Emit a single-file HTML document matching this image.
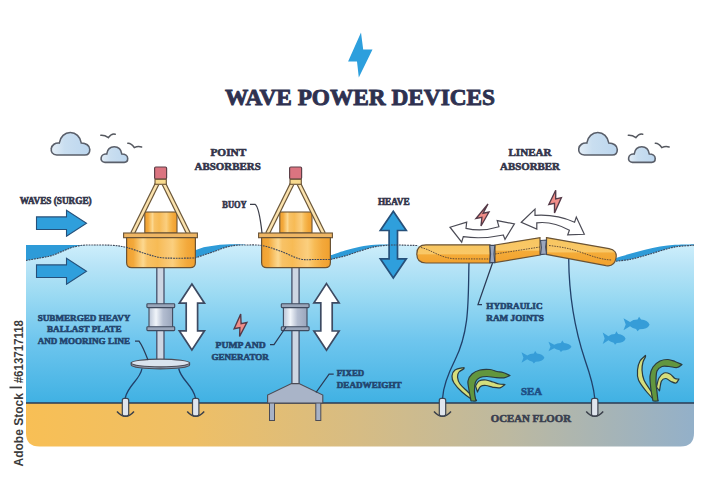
<!DOCTYPE html>
<html><head><meta charset="utf-8">
<style>
html,body{margin:0;padding:0;background:#fff;width:720px;height:480px;overflow:hidden}
svg{display:block}
text{font-family:"Liberation Serif",serif;font-weight:bold;fill:#2e3150}
</style></head><body>
<svg width="720" height="480" viewBox="0 0 720 480">
<defs>
<linearGradient id="water" gradientUnits="userSpaceOnUse" x1="0" y1="245" x2="0" y2="403">
<stop offset="0" stop-color="#cdeefb"/>
<stop offset="0.13" stop-color="#b8e4f7"/>
<stop offset="0.285" stop-color="#a0dcf3"/>
<stop offset="0.6" stop-color="#6fc6ee"/>
<stop offset="1" stop-color="#40b1e3"/>
</linearGradient>
<linearGradient id="sand" x1="0" y1="0" x2="1" y2="0">
<stop offset="0" stop-color="#f8bf55"/>
<stop offset="0.25" stop-color="#eebf66"/>
<stop offset="0.5" stop-color="#d6bc84"/>
<stop offset="0.72" stop-color="#bdb9a0"/>
<stop offset="1" stop-color="#93b0c9"/>
</linearGradient>
<linearGradient id="buoy" x1="0" y1="0" x2="1" y2="0">
<stop offset="0" stop-color="#f0a030"/>
<stop offset="0.1" stop-color="#f3a93b"/>
<stop offset="0.19" stop-color="#f9c872"/>
<stop offset="0.24" stop-color="#fcd890"/>
<stop offset="0.3" stop-color="#f8c266"/>
<stop offset="0.45" stop-color="#f7bb55"/>
<stop offset="0.58" stop-color="#f9c670"/>
<stop offset="0.67" stop-color="#fbcf7e"/>
<stop offset="0.77" stop-color="#f7bb55"/>
<stop offset="0.88" stop-color="#f3a93c"/>
<stop offset="1" stop-color="#f0a02e"/>
</linearGradient>
<linearGradient id="gen" x1="0" y1="0" x2="1" y2="0">
<stop offset="0" stop-color="#b9c4d6"/>
<stop offset="0.3" stop-color="#f1f5fa"/>
<stop offset="0.6" stop-color="#b3bdd0"/>
<stop offset="1" stop-color="#9aa6bc"/>
</linearGradient>
<linearGradient id="seg" x1="0" y1="0" x2="0" y2="1">
<stop offset="0" stop-color="#f8c660"/>
<stop offset="0.5" stop-color="#f9c868"/>
<stop offset="0.55" stop-color="#f4ab38"/>
<stop offset="1" stop-color="#f2a22e"/>
</linearGradient>
<linearGradient id="cloud" x1="0" y1="0" x2="1" y2="0">
<stop offset="0" stop-color="#e4eef7"/>
<stop offset="0.35" stop-color="#c9def0"/>
<stop offset="1" stop-color="#bcd6ee"/>
</linearGradient>
</defs>

<path d="M26 403 H694 V433 Q694 446.5 680.5 446.5 H39.5 Q26 446.5 26 433 Z" fill="url(#sand)"/>
<path d="M26 260.5 C28.33 260.08 35.67 258.83 40 258 C44.33 257.17 48.33 256.58 52 255.5 C55.67 254.42 58.67 252.83 62 251.5 C65.33 250.17 68.67 248.53 72 247.5 C75.33 246.47 78.67 245.72 82 245.3 C85.33 244.88 90.33 245.05 92 245  C95.33 245.05 106.17 244.88 112 245.3 C117.83 245.72 121.50 246.13 127 247.5 C132.50 248.87 139.50 251.83 145 253.5 C150.50 255.17 155.00 256.72 160 257.5 C165.00 258.28 169.17 258.12 175 258.2 C180.83 258.28 191.67 258.03 195 258  C196.67 257.43 201.67 255.72 205 254.6 C208.33 253.47 211.67 252.43 215 251.25 C218.33 250.07 221.67 248.47 225 247.5 C228.33 246.53 231.67 245.82 235 245.4 C238.33 244.98 243.33 245.07 245 245  C247.83 245.08 256.17 244.50 262 245.5 C267.83 246.50 273.67 248.75 280 251 C286.33 253.25 294.17 257.58 300 259 C305.83 260.42 310.00 259.42 315 259.5 C320.00 259.58 327.50 259.50 330 259.5  C332.50 258.90 340.00 257.32 345 255.9 C350.00 254.48 355.00 252.53 360 251 C365.00 249.47 370.33 247.67 375 246.7 C379.67 245.73 384.17 245.48 388 245.2 C391.83 244.92 396.33 245.03 398 245  C401.33 245.08 414.67 245.42 418 245.5 L460 250 L600 252 L616 261.2  C618.33 260.90 625.17 260.33 630 259.4 C634.83 258.47 640.00 257.00 645 255.6 C650.00 254.20 655.00 252.45 660 251 C665.00 249.55 670.00 247.82 675 246.9 C680.00 245.98 686.83 245.77 690 245.5 C693.17 245.23 693.33 245.33 694 245.3 V403 H26 Z" fill="url(#water)"/>
<path d="M26 245 C37.00 245.00 81.00 245.00 92 245 L92 245 C90.33 245.05 85.33 244.88 82 245.3 C78.67 245.72 75.33 246.47 72 247.5 C68.67 248.53 65.33 250.17 62 251.5 C58.67 252.83 55.67 254.42 52 255.5 C48.33 256.58 44.33 257.17 40 258 C35.67 258.83 28.33 260.08 26 260.5 Z" fill="#2e9bd8"/>
<path d="M195 250.4 C196.67 249.85 201.67 247.93 205 247.1 C208.33 246.27 211.67 245.82 215 245.4 C218.33 244.98 221.67 244.78 225 244.6 C228.33 244.42 231.67 244.30 235 244.3 C238.33 244.30 243.33 244.55 245 244.6 L245 245 C243.33 245.07 238.33 244.98 235 245.4 C231.67 245.82 228.33 246.53 225 247.5 C221.67 248.47 218.33 250.07 215 251.25 C211.67 252.43 208.33 253.47 205 254.6 C201.67 255.72 196.67 257.43 195 258 Z" fill="#2e9bd8"/>
<path d="M329 255.9 C331.67 255.00 339.83 252.03 345 250.5 C350.17 248.97 355.00 247.67 360 246.7 C365.00 245.73 370.33 245.08 375 244.7 C379.67 244.32 384.17 244.42 388 244.4 C391.83 244.38 396.33 244.57 398 244.6 L398 245 C396.33 245.03 391.83 244.92 388 245.2 C384.17 245.48 379.67 245.73 375 246.7 C370.33 247.67 365.00 249.47 360 251 C355.00 252.53 350.00 254.48 345 255.9 C340.00 257.32 332.50 258.90 330 259.5 Z" fill="#2e9bd8"/>
<path d="M616 258.1 C618.33 257.38 625.17 255.14 630 253.75 C634.83 252.36 640.00 250.96 645 249.75 C650.00 248.54 655.00 247.33 660 246.5 C665.00 245.67 670.00 245.10 675 244.75 C680.00 244.40 686.83 244.46 690 244.4 C693.17 244.34 693.33 244.40 694 244.4 L694 245.3 C693.33 245.33 693.17 245.23 690 245.5 C686.83 245.77 680.00 245.98 675 246.9 C670.00 247.82 665.00 249.55 660 251 C655.00 252.45 650.00 254.20 645 255.6 C640.00 257.00 634.83 258.47 630 259.4 C625.17 260.33 618.33 260.90 616 261.2 Z" fill="#2e9bd8"/>
<line x1="26" y1="403" x2="694" y2="403" stroke="#2b3a52" stroke-width="1.4"/>
<rect x="156.80" y="265" width="7.2" height="98.00" fill="#cdd6e3" stroke="#45506a" stroke-width="1.3"/>
<rect x="291.90" y="265" width="7.2" height="119.00" fill="#cdd6e3" stroke="#45506a" stroke-width="1.3"/>
<g transform="translate(0.00,0)">
<rect x="144.8" y="212" width="32.2" height="21" fill="url(#buoy)" stroke="#6a5335" stroke-width="1.1"/>
<line x1="157" y1="184" x2="132.5" y2="233.5" stroke="#6a5638" stroke-width="5" stroke-linecap="butt"/>
<line x1="157" y1="184" x2="132.5" y2="233.5" stroke="#fbe2ad" stroke-width="2.6"/>
<line x1="164" y1="184" x2="188.5" y2="233.5" stroke="#6a5638" stroke-width="5" stroke-linecap="butt"/>
<line x1="164" y1="184" x2="188.5" y2="233.5" stroke="#fbe2ad" stroke-width="2.6"/>
<rect x="154.6" y="167" width="12" height="12" rx="1.2" fill="#db7480" stroke="#5e4048" stroke-width="1.2"/>
<rect x="155" y="179.3" width="11.3" height="5" fill="#f8da8e" stroke="#6a5335" stroke-width="1.1"/>
<rect x="123.6" y="233" width="73.8" height="4.7" fill="#eeb664" stroke="#6a5335" stroke-width="1.1"/>
<path d="M126.6 237.7 H195.4 V262.5 Q195.4 267.7 190.2 267.7 H131.8 Q126.6 267.7 126.6 262.5 Z" fill="url(#buoy)" stroke="#6a5335" stroke-width="1.2"/>
</g>
<g transform="translate(135.00,0)">
<rect x="144.8" y="212" width="32.2" height="21" fill="url(#buoy)" stroke="#6a5335" stroke-width="1.1"/>
<line x1="157" y1="184" x2="132.5" y2="233.5" stroke="#6a5638" stroke-width="5" stroke-linecap="butt"/>
<line x1="157" y1="184" x2="132.5" y2="233.5" stroke="#fbe2ad" stroke-width="2.6"/>
<line x1="164" y1="184" x2="188.5" y2="233.5" stroke="#6a5638" stroke-width="5" stroke-linecap="butt"/>
<line x1="164" y1="184" x2="188.5" y2="233.5" stroke="#fbe2ad" stroke-width="2.6"/>
<rect x="154.6" y="167" width="12" height="12" rx="1.2" fill="#db7480" stroke="#5e4048" stroke-width="1.2"/>
<rect x="155" y="179.3" width="11.3" height="5" fill="#f8da8e" stroke="#6a5335" stroke-width="1.1"/>
<rect x="123.6" y="233" width="73.8" height="4.7" fill="#eeb664" stroke="#6a5335" stroke-width="1.1"/>
<path d="M126.6 237.7 H195.4 V262.5 Q195.4 267.7 190.2 267.7 H131.8 Q126.6 267.7 126.6 262.5 Z" fill="url(#buoy)" stroke="#6a5335" stroke-width="1.2"/>
</g>
<rect x="149.00" y="306" width="23.6" height="22" fill="url(#gen)" stroke="#3f4a5e" stroke-width="1.1"/>
<rect x="146.90" y="303.8" width="27.8" height="3.8" rx="0.8" fill="#9aa6ba" stroke="#3f4a5e" stroke-width="1.1"/>
<rect x="146.90" y="326.8" width="27.8" height="3.8" rx="0.8" fill="#9aa6ba" stroke="#3f4a5e" stroke-width="1.1"/>
<rect x="283.40" y="306" width="23.6" height="22" fill="url(#gen)" stroke="#3f4a5e" stroke-width="1.1"/>
<rect x="281.30" y="303.8" width="27.8" height="3.8" rx="0.8" fill="#9aa6ba" stroke="#3f4a5e" stroke-width="1.1"/>
<rect x="281.30" y="326.8" width="27.8" height="3.8" rx="0.8" fill="#9aa6ba" stroke="#3f4a5e" stroke-width="1.1"/>
<path d="M191.9 284 L204.5 303.2 L197.6 303.2 L197.6 330.8 L204.5 330.8 L191.9 350 L179.3 330.8 L186.20000000000002 330.8 L186.20000000000002 303.2 L179.3 303.2 Z" fill="#ffffff" stroke="#3d4a62" stroke-width="1.7" stroke-linejoin="miter"/>
<path d="M326.5 283.6 L339.1 302.8 L332.2 302.8 L332.2 331.0 L339.1 331.0 L326.5 350.2 L313.9 331.0 L320.8 331.0 L320.8 302.8 L313.9 302.8 Z" fill="#ffffff" stroke="#3d4a62" stroke-width="1.7" stroke-linejoin="miter"/>
<path d="M131.2 363 V365 A29.2 3.9 0 0 0 189.6 365 V363 Z" fill="#8d99ad" stroke="#4b4b55" stroke-width="1.1"/>
<ellipse cx="160.4" cy="363" rx="29.2" ry="3.9" fill="#dae3ee" stroke="#4b4b55" stroke-width="1.1"/>
<path d="M142 368.5 C140 380 128 385 125.2 398" fill="none" stroke="#21406a" stroke-width="1.3"/>
<path d="M178.7 368.5 C181 380 193 385 195.5 398" fill="none" stroke="#21406a" stroke-width="1.3"/>
<path d="M117.0 411.5 Q125.5 421 134.0 411.5" fill="none" stroke="#3a3f4a" stroke-width="1.5"/>
<rect x="122.3" y="398.4" width="6.4" height="17.5" rx="2" fill="#dfe5ee" stroke="#3f4652" stroke-width="1.2"/>
<path d="M187.2 411.5 Q195.7 421 204.2 411.5" fill="none" stroke="#3a3f4a" stroke-width="1.5"/>
<rect x="192.5" y="398.4" width="6.4" height="17.5" rx="2" fill="#dfe5ee" stroke="#3f4652" stroke-width="1.2"/>
<path d="M434.0 411.5 Q442.5 421 451.0 411.5" fill="none" stroke="#3a3f4a" stroke-width="1.5"/>
<rect x="439.3" y="398.4" width="6.4" height="17.5" rx="2" fill="#dfe5ee" stroke="#3f4652" stroke-width="1.2"/>
<path d="M586.2 411.5 Q594.7 421 603.2 411.5" fill="none" stroke="#3a3f4a" stroke-width="1.5"/>
<rect x="591.5" y="398.4" width="6.4" height="17.5" rx="2" fill="#dfe5ee" stroke="#3f4652" stroke-width="1.2"/>
<rect x="269.5" y="400" width="5" height="20.5" fill="#a7b2c6" stroke="#4b4b55" stroke-width="1"/>
<rect x="315.8" y="400" width="5" height="20.5" fill="#a7b2c6" stroke="#4b4b55" stroke-width="1"/>
<path d="M291.5 383.6 H299 L322.8 395 V403 H267.6 V395 Z" fill="#a9b4c8" stroke="#4b4b55" stroke-width="1.1"/>
<path d="M469 262 C468 300 470 330 455 360 C446 378 443 390 442.6 398" fill="none" stroke="#21406a" stroke-width="1.3"/>
<path d="M568.7 258.5 C569 300 575 330 585 360 C592 380 594 390 594.7 398" fill="none" stroke="#21406a" stroke-width="1.3"/>
<path d="M426 244.8 H490 V263 H426 Q416.8 263 416.8 253.9 Q416.8 244.8 426 244.8 Z" fill="url(#seg)" stroke="#6a5335" stroke-width="1.2"/>
<path d="M421 247.5 C432 250 440 258 455 258.8 L490 259" fill="none" stroke="#5a4632" stroke-width="0.9" stroke-dasharray="1.6 1"/>
<path d="M495 245 L540 237.6 L540 255 L495 262.6 Z" fill="url(#seg)" stroke="#6a5335" stroke-width="1.2"/>
<path d="M495 254 L540 247" fill="none" stroke="#5a4632" stroke-width="0.9" stroke-dasharray="1.6 1"/>
<path d="M546.5 237.6 L609 248.6 Q617.5 250.2 616 258 Q614.5 267 606 265.6 L546.5 254.4 Z" fill="url(#seg)" stroke="#6a5335" stroke-width="1.2"/>
<path d="M549 245.5 C562 247 570 248.5 580 252 C592 256 600 259.5 612 260" fill="none" stroke="#5a4632" stroke-width="0.9" stroke-dasharray="1.6 1"/>
<path d="M489.8 245.4 H494.8 L494 254 L494.8 262.6 H489.8 L490.6 254 Z" fill="#9aa6bd" stroke="#3f4a5e" stroke-width="1.1"/>
<path d="M540.5 240.5 L546.5 240 L545.6 247 L546.5 254 L540.5 254.6 L541.4 247.5 Z" fill="#9aa6bd" stroke="#3f4a5e" stroke-width="1.1"/>
<path d="M450 227.2 L466.7 222.2 L466 228.3 Q482 232 498.9 226.7 L497.2 220.6 L514.4 223.9 L505 239.4 L503.3 235 Q482 239.5 463.3 236.7 L461.7 242.2 Z" fill="#fff" stroke="#4b4b55" stroke-width="1.2" stroke-linejoin="miter"/>
<path d="M521.3 222.2 L535 209.1 L535 215.4 Q556 214 574.6 222.2 L576.3 217.1 L584.3 234.3 L567.7 234.9 L569.4 230.3 Q553 221 536.8 222.8 L536.8 229.1 Z" fill="#fff" stroke="#4b4b55" stroke-width="1.2" stroke-linejoin="miter"/>
<path d="M36.5 216.89999999999998 L66.5 216.89999999999998 L66.5 210.2 L86.5 223.2 L66.5 236.2 L66.5 229.5 L36.5 229.5 Z" fill="#2f9fdc" stroke="#26507a" stroke-width="1.1"/>
<path d="M36.5 264.9 L66.5 264.9 L66.5 258.2 L86.5 271.2 L66.5 284.2 L66.5 277.5 L36.5 277.5 Z" fill="#2f9fdc" stroke="#26507a" stroke-width="1.1"/>
<path d="M393.3 211.3 L406.3 230.5 L397.5 230.5 L397.5 258.8 L406.3 258.8 L393.3 278 L380.3 258.8 L389.1 258.8 L389.1 230.5 L380.3 230.5 Z" fill="#2f9fdc" stroke="#26507a" stroke-width="1.7" stroke-linejoin="miter"/>
<path d="M26 260.5 C28.33 260.08 35.67 258.83 40 258 C44.33 257.17 48.33 256.58 52 255.5 C55.67 254.42 58.67 252.83 62 251.5 C65.33 250.17 68.67 248.53 72 247.5 C75.33 246.47 78.67 245.72 82 245.3 C85.33 244.88 90.33 245.05 92 245  C95.33 245.05 106.17 244.88 112 245.3 C117.83 245.72 121.50 246.13 127 247.5 C132.50 248.87 139.50 251.83 145 253.5 C150.50 255.17 155.00 256.72 160 257.5 C165.00 258.28 169.17 258.12 175 258.2 C180.83 258.28 191.67 258.03 195 258  C196.67 257.43 201.67 255.72 205 254.6 C208.33 253.47 211.67 252.43 215 251.25 C218.33 250.07 221.67 248.47 225 247.5 C228.33 246.53 231.67 245.82 235 245.4 C238.33 244.98 243.33 245.07 245 245  C247.83 245.08 256.17 244.50 262 245.5 C267.83 246.50 273.67 248.75 280 251 C286.33 253.25 294.17 257.58 300 259 C305.83 260.42 310.00 259.42 315 259.5 C320.00 259.58 327.50 259.50 330 259.5  C332.50 258.90 340.00 257.32 345 255.9 C350.00 254.48 355.00 252.53 360 251 C365.00 249.47 370.33 247.67 375 246.7 C379.67 245.73 384.17 245.48 388 245.2 C391.83 244.92 396.33 245.03 398 245  C401.33 245.08 414.67 245.42 418 245.5" fill="none" stroke="#3d4658" stroke-width="1.1" stroke-dasharray="1.8 0.9"/>
<path d="M616 261.2 C618.33 260.90 625.17 260.33 630 259.4 C634.83 258.47 640.00 257.00 645 255.6 C650.00 254.20 655.00 252.45 660 251 C665.00 249.55 670.00 247.82 675 246.9 C680.00 245.98 686.83 245.77 690 245.5 C693.17 245.23 693.33 245.33 694 245.3" fill="none" stroke="#3d4658" stroke-width="1.1" stroke-dasharray="1.8 0.9"/>
<path d="M361 32.5 L348.1 61.5 L357 61.5 L358.8 77.5 L372.5 49.4 L363.2 49.4 Z" fill="#2d9fdd"/>
<path d="M240.7 314.1 L234.1 328.7 L239.9 327.5 L239.6 336.4 L246.9 322.5 L241.1 323.7 Z" fill="#f08d88" stroke="#553a48" stroke-width="1.35" stroke-linejoin="miter"/>
<path d="M488 204 L476 218.5 L481.9 217.3 L481 226 L489 212 L483.1 213.2 Z" fill="#f08d88" stroke="#553a48" stroke-width="1.35" stroke-linejoin="miter"/>
<path d="M555.7 190.2 L548.8 204.5 L554.5 203.3 L554.5 213.1 L561.4 197.6 L555.7 198.8 Z" fill="#f08d88" stroke="#553a48" stroke-width="1.35" stroke-linejoin="miter"/>
<path transform="translate(521.5,351) scale(0.881,0.833)" d="M0 1.5 L6.5 5.5 Q9.5 3 14 3 L15.5 0 L17.5 3 Q24 3.5 26 8.2 Q24 13 16 13 L14 15 L12.5 12.8 Q9 12 6.5 10 L0 14 L2.2 8 Z" fill="#369dd8"/>
<path transform="translate(548.5,340.6) scale(0.885,0.760)" d="M0 1.5 L6.5 5.5 Q9.5 3 14 3 L15.5 0 L17.5 3 Q24 3.5 26 8.2 Q24 13 16 13 L14 15 L12.5 12.8 Q9 12 6.5 10 L0 14 L2.2 8 Z" fill="#369dd8"/>
<path transform="translate(602.7,331.2) scale(0.881,0.907)" d="M0 1.5 L6.5 5.5 Q9.5 3 14 3 L15.5 0 L17.5 3 Q24 3.5 26 8.2 Q24 13 16 13 L14 15 L12.5 12.8 Q9 12 6.5 10 L0 14 L2.2 8 Z" fill="#369dd8"/>
<path transform="translate(623.5,316.7) scale(1.004,0.967)" d="M0 1.5 L6.5 5.5 Q9.5 3 14 3 L15.5 0 L17.5 3 Q24 3.5 26 8.2 Q24 13 16 13 L14 15 L12.5 12.8 Q9 12 6.5 10 L0 14 L2.2 8 Z" fill="#369dd8"/>
<path d="M474 401 C472.00 399.50 465.33 395.00 462 392 C458.67 389.00 455.67 385.67 454 383 C452.33 380.33 451.83 378.17 452 376 C452.17 373.83 453.00 371.42 455 370 C457.00 368.58 462.50 367.92 464 367.5 L464 368.8 C463.17 369.33 460.08 370.63 459 372 C457.92 373.37 457.33 375.00 457.5 377 C457.67 379.00 458.25 381.50 460 384 C461.75 386.50 465.25 389.25 468 392 C470.75 394.75 475.08 399.08 476.5 400.5 Z" fill="#d5de7c" stroke="#2a3b40" stroke-width="1.2" stroke-linejoin="round"/>
<path d="M471 401 C470.67 399.17 469.50 393.33 469 390 C468.50 386.67 467.50 383.67 468 381 C468.50 378.33 470.00 375.83 472 374 C474.00 372.17 477.00 370.75 480 370 C483.00 369.25 487.17 369.25 490 369.5 C492.83 369.75 494.83 371.00 497 371.5 C499.17 372.00 500.83 371.83 503 372.5 C505.17 373.17 508.83 375.00 510 375.5 L510 375.5 C509.00 375.88 506.50 377.47 504 377.8 C501.50 378.13 497.83 377.72 495 377.5 C492.17 377.28 489.50 376.50 487 376.5 C484.50 376.50 481.92 376.58 480 377.5 C478.08 378.42 476.42 379.58 475.5 382 C474.58 384.42 474.42 388.83 474.5 392 C474.58 395.17 475.75 399.50 476 401 Z" fill="#62963e" stroke="#2a3b40" stroke-width="1.2" stroke-linejoin="round"/>
<path d="M475.5 386 C476.08 385.17 477.25 382.00 479 381 C480.75 380.00 483.67 379.83 486 380 C488.33 380.17 490.83 381.33 493 382 C495.17 382.67 497.00 383.58 499 384 C501.00 384.42 504.00 384.42 505 384.5 L505 384.5 C504.17 385.05 502.00 387.33 500 387.8 C498.00 388.27 495.33 387.68 493 387.3 C490.67 386.92 488.08 385.63 486 385.5 C483.92 385.37 481.92 385.42 480.5 386.5 C479.08 387.58 478.00 391.08 477.5 392 Z" fill="#d5de7c" stroke="#2a3b40" stroke-width="1.2" stroke-linejoin="round"/>
<path d="M655 401 C653.50 399.33 648.75 394.50 646 391 C643.25 387.50 639.92 383.50 638.5 380 C637.08 376.50 637.25 373.17 637.5 370 C637.75 366.83 638.67 363.42 640 361 C641.33 358.58 644.58 356.42 645.5 355.5 L645.5 357 C645.08 357.83 643.58 359.83 643 362 C642.42 364.17 641.83 367.00 642 370 C642.17 373.00 642.50 376.50 644 380 C645.50 383.50 648.67 387.58 651 391 C653.33 394.42 656.83 398.92 658 400.5 Z" fill="#d5de7c" stroke="#2a3b40" stroke-width="1.2" stroke-linejoin="round"/>
<path d="M653 401 C652.67 399.17 651.50 394.17 651 390 C650.50 385.83 649.67 379.83 650 376 C650.33 372.17 651.33 369.50 653 367 C654.67 364.50 657.50 362.25 660 361 C662.50 359.75 665.50 359.42 668 359.5 C670.50 359.58 672.67 360.67 675 361.5 C677.33 362.33 680.83 364.00 682 364.5 L682 364.5 C681.17 365.00 679.17 367.17 677 367.5 C674.83 367.83 671.50 366.67 669 366.5 C666.50 366.33 664.00 365.75 662 366.5 C660.00 367.25 658.00 368.42 657 371 C656.00 373.58 656.00 378.50 656 382 C656.00 385.50 656.67 388.83 657 392 C657.33 395.17 657.83 399.50 658 401 Z" fill="#62963e" stroke="#2a3b40" stroke-width="1.2" stroke-linejoin="round"/>
<path d="M656.5 387 C656.92 385.50 657.75 380.33 659 378 C660.25 375.67 662.17 373.67 664 373 C665.83 372.33 668.17 373.08 670 374 C671.83 374.92 673.50 377.67 675 378.5 C676.50 379.33 678.33 378.92 679 379 L679 379 C678.50 379.67 677.33 382.58 676 383 C674.67 383.42 672.67 382.25 671 381.5 C669.33 380.75 667.58 378.58 666 378.5 C664.42 378.42 662.58 378.92 661.5 381 C660.42 383.08 659.83 389.33 659.5 391 Z" fill="#d5de7c" stroke="#2a3b40" stroke-width="1.2" stroke-linejoin="round"/>
<path transform="translate(50.8,132.5) scale(1.0)" d="M6 22.5 C1.5 22.5 0 19 0.5 16 C1 12.5 4.5 10 8.5 10.5 C9.5 4 14 0 19.5 0 C25 0 29.5 4 30.5 10.5 C35 10.5 39 13 39 17 C39 20.5 37 22.5 34 22.5 Z" fill="url(#cloud)" stroke="#5a5f6a" stroke-width="1.60"/>
<path transform="translate(100.8,146.8) scale(0.69)" d="M6 22.5 C1.5 22.5 0 19 0.5 16 C1 12.5 4.5 10 8.5 10.5 C9.5 4 14 0 19.5 0 C25 0 29.5 4 30.5 10.5 C35 10.5 39 13 39 17 C39 20.5 37 22.5 34 22.5 Z" fill="url(#cloud)" stroke="#5a5f6a" stroke-width="2.32"/>
<path d="M100.8 135.3 Q104.6 135.0 108.4 137.6 Q111.8 133.0 115.2 134.2" fill="none" stroke="#55585f" stroke-width="1.5" stroke-linecap="round"/>
<path d="M127.8 143.3 Q131.1 143.0 134.3 147.6 Q137.9 145.8 141.6 147" fill="none" stroke="#55585f" stroke-width="1.5" stroke-linecap="round"/>
<path transform="translate(578.3,132.5) scale(1.0)" d="M6 22.5 C1.5 22.5 0 19 0.5 16 C1 12.5 4.5 10 8.5 10.5 C9.5 4 14 0 19.5 0 C25 0 29.5 4 30.5 10.5 C35 10.5 39 13 39 17 C39 20.5 37 22.5 34 22.5 Z" fill="url(#cloud)" stroke="#5a5f6a" stroke-width="1.60"/>
<path transform="translate(628.3,146.8) scale(0.69)" d="M6 22.5 C1.5 22.5 0 19 0.5 16 C1 12.5 4.5 10 8.5 10.5 C9.5 4 14 0 19.5 0 C25 0 29.5 4 30.5 10.5 C35 10.5 39 13 39 17 C39 20.5 37 22.5 34 22.5 Z" fill="url(#cloud)" stroke="#5a5f6a" stroke-width="2.32"/>
<path d="M628.3 135.3 Q632.1 135.0 635.9 137.6 Q639.3 133.0 642.7 134.2" fill="none" stroke="#55585f" stroke-width="1.5" stroke-linecap="round"/>
<path d="M655.3 143.3 Q658.5 143.0 661.8 147.6 Q665.5 145.8 669.1 147" fill="none" stroke="#55585f" stroke-width="1.5" stroke-linecap="round"/>
<path d="M250 204.3 H255 C258 206 260 215 262 233" fill="none" stroke="#3c3f4a" stroke-width="1.25"/>
<path d="M135 341 H139 C142 345 145 352 148 360" fill="none" stroke="#2b3a55" stroke-width="1.25"/>
<path d="M270 344.5 H274 L286 327" fill="none" stroke="#2b3a55" stroke-width="1.25"/>
<path d="M333.7 374.1 H329.1 L316 392.5" fill="none" stroke="#2b3a55" stroke-width="1.25"/>
<path d="M482 304.6 H478 L492.5 263" fill="none" stroke="#2b3a55" stroke-width="1.25"/>
<text x="224.9" y="104.8" font-size="23.8" textLength="270.2" lengthAdjust="spacingAndGlyphs" style="fill:#2e3150;stroke:#2e3150;stroke-width:0.9">WAVE POWER DEVICES</text>
<text x="210.4" y="156" font-size="11.2" textLength="35.9" lengthAdjust="spacingAndGlyphs" style="fill:#33354a;stroke:#33354a;stroke-width:0.6">POINT</text>
<text x="194.6" y="169.6" font-size="11.2" textLength="66.2" lengthAdjust="spacingAndGlyphs" style="fill:#33354a;stroke:#33354a;stroke-width:0.6">ABSORBERS</text>
<text x="508.5" y="155.7" font-size="11.2" textLength="43.0" lengthAdjust="spacingAndGlyphs" style="fill:#33354a;stroke:#33354a;stroke-width:0.6">LINEAR</text>
<text x="500.1" y="169.6" font-size="11.2" textLength="59.8" lengthAdjust="spacingAndGlyphs" style="fill:#33354a;stroke:#33354a;stroke-width:0.6">ABSORBER</text>
<text x="19.8" y="203.5" font-size="9.3" textLength="71.9" lengthAdjust="spacingAndGlyphs" style="fill:#33354a;stroke:#33354a;stroke-width:0.6">WAVES (SURGE)</text>
<text x="222.3" y="207.5" font-size="9.3" textLength="24.4" lengthAdjust="spacingAndGlyphs" style="fill:#33354a;stroke:#33354a;stroke-width:0.6">BUOY</text>
<text x="377.9" y="205.4" font-size="9.3" textLength="31.7" lengthAdjust="spacingAndGlyphs" style="fill:#33354a;stroke:#33354a;stroke-width:0.6">HEAVE</text>
<text x="37.7" y="321" font-size="9" textLength="92.7" lengthAdjust="spacingAndGlyphs" style="fill:#23456e;stroke:#23456e;stroke-width:0.6">SUBMERGED HEAVY</text>
<text x="47" y="332.4" font-size="9" textLength="74.5" lengthAdjust="spacingAndGlyphs" style="fill:#23456e;stroke:#23456e;stroke-width:0.6">BALLAST PLATE</text>
<text x="37.7" y="344" font-size="9" textLength="92.3" lengthAdjust="spacingAndGlyphs" style="fill:#23456e;stroke:#23456e;stroke-width:0.6">AND MOORING LINE</text>
<text x="215.6" y="348" font-size="9" textLength="50.0" lengthAdjust="spacingAndGlyphs" style="fill:#23456e;stroke:#23456e;stroke-width:0.6">PUMP AND</text>
<text x="211.5" y="359.6" font-size="9" textLength="57.3" lengthAdjust="spacingAndGlyphs" style="fill:#23456e;stroke:#23456e;stroke-width:0.6">GENERATOR</text>
<text x="336.7" y="376.4" font-size="9" textLength="27.5" lengthAdjust="spacingAndGlyphs" style="fill:#23456e;stroke:#23456e;stroke-width:0.6">FIXED</text>
<text x="336.7" y="388.3" font-size="9" textLength="65.0" lengthAdjust="spacingAndGlyphs" style="fill:#23456e;stroke:#23456e;stroke-width:0.6">DEADWEIGHT</text>
<text x="486.3" y="308.8" font-size="9" textLength="56.2" lengthAdjust="spacingAndGlyphs" style="fill:#23456e;stroke:#23456e;stroke-width:0.6">HYDRAULIC</text>
<text x="486.3" y="320.5" font-size="9" textLength="57.5" lengthAdjust="spacingAndGlyphs" style="fill:#23456e;stroke:#23456e;stroke-width:0.6">RAM JOINTS</text>
<text x="521" y="394.6" font-size="10" textLength="20.9" lengthAdjust="spacingAndGlyphs" style="fill:#1f4f85;stroke:#1f4f85;stroke-width:0.6">SEA</text>
<text x="490.8" y="421.7" font-size="11" textLength="80.2" lengthAdjust="spacingAndGlyphs" style="fill:#3a3f4f;stroke:#3a3f4f;stroke-width:0.6">OCEAN FLOOR</text>
<text transform="translate(22.7,466.5) rotate(-90)" x="0" y="0" font-size="13.5" textLength="73.5" lengthAdjust="spacingAndGlyphs" style="font-family:'Liberation Sans',sans-serif;font-weight:bold;fill:#3c3c3c">Adobe Stock</text>
<text transform="translate(22.7,383.3) rotate(-90)" x="0" y="0" font-size="13.5" textLength="63.3" lengthAdjust="spacingAndGlyphs" style="font-family:'Liberation Sans',sans-serif;font-weight:bold;fill:#3c3c3c">#613717118</text>
<rect x="9.5" y="386.6" width="12.5" height="1.7" fill="#3c3c3c"/>
</svg>
</body></html>
